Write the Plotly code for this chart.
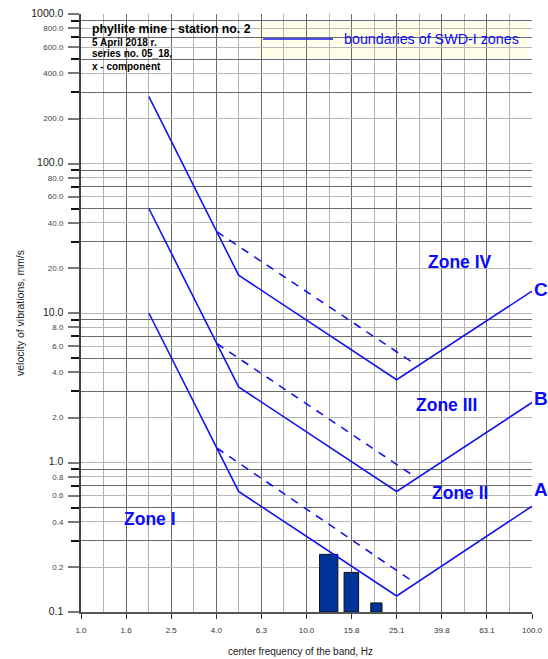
import plotly.graph_objects as go

# ---------------- data ----------------
# vertices of SWD-I zone boundaries (frequency Hz, velocity mm/s)
bound_freq = [2.0, 4.0, 5.0, 25.1, 100.0]
bound_A = [10.0, 1.25, 0.64, 0.128, 0.51]
bound_B = [50.0, 6.25, 3.2, 0.64, 2.52]
bound_C = [280.0, 35.0, 17.9, 3.58, 14.0]

dash_freq = [4.0, 30.0]
dash_A = [1.25, 0.158]
dash_B = [6.25, 0.81]
dash_C = [35.0, 4.6]

# measured spectrum bars (center frequency Hz, velocity mm/s)
bar_freq = [12.6, 15.85, 20.45]
bar_vel = [0.243, 0.184, 0.115]
bar_width_hz = 2.35
bar_base = 0.1

x_tickvals = [1.0, 1.585, 2.512, 3.981, 6.31, 10.0, 15.85, 25.12, 39.81, 63.1, 100.0]
x_ticktext = ["1.0", "1.6", "2.5", "4.0", "6.3", "10.0", "15.8", "25.1", "39.8", "63.1", "100.0"]
x_minor = [1.259, 1.995, 3.162, 5.012, 7.943, 12.59, 19.95, 31.62, 50.12, 79.43]

y_tickvals = [0.1, 0.2, 0.4, 0.6, 0.8, 1, 2, 4, 6, 8, 10, 20, 40, 60, 80, 100, 200, 400, 600, 800, 1000]
y_ticktext = ["0.1", "0.2", "0.4", "0.6", "0.8", "1.0", "2.0", "4.0", "6.0", "8.0", "10.0",
              "20.0", "40.0", "60.0", "80.0", "100.0", "200.0", "400.0", "600.0", "800.0", "1000.0"]
y_minor = [0.3, 0.5, 0.7, 0.9, 3, 5, 7, 9, 30, 50, 70, 90, 300, 500, 700, 900]

# ---------------- figure ----------------
W, H = 548, 659
L, R, T, B = 81, 16, 14, 47
PW, PH = W - L - R, H - T - B

def px(x):
    return (x - L) / PW

def py(y):
    return (H - B - y) / PH

BLUE_LINE = "#1414f0"
BLUE_TXT = "#0a0aff"
FONT = "Arial, Liberation Sans, sans-serif"

fig = go.Figure()

# bars as filled polygons
for f, v in zip(bar_freq, bar_vel):
    x0, x1 = f - bar_width_hz / 2, f + bar_width_hz / 2
    fig.add_trace(go.Scatter(
        x=[x0, x1, x1, x0, x0], y=[bar_base, bar_base, v, v, bar_base],
        mode="lines", fill="toself", fillcolor="#003399",
        line=dict(color="#111111", width=1), showlegend=False, hoverinfo="skip"))

for vals in (bound_A, bound_B, bound_C):
    fig.add_trace(go.Scatter(x=bound_freq, y=vals, mode="lines",
                             line=dict(color=BLUE_LINE, width=1.6),
                             showlegend=False, hoverinfo="skip"))
for vals in (dash_A, dash_B, dash_C):
    fig.add_trace(go.Scatter(x=dash_freq, y=vals, mode="lines",
                             line=dict(color=BLUE_LINE, width=1.6, dash="8px,7px"),
                             showlegend=False, hoverinfo="skip"))

# y tick labels: decades larger
big = {"0.1", "1.0", "10.0", "100.0", "1000.0"}
y_tt = [f"<span style='font-size:10.5px;fill:#222'>{t}</span>" if t in big else t for t in y_ticktext]

fig.update_xaxes(
    type="log", range=[0, 2], automargin=False,
    tickmode="array", tickvals=x_tickvals, ticktext=x_ticktext,
    tickfont=dict(size=8, color="#333", family=FONT),
    ticks="outside", ticklen=5, tickcolor="#333", tickwidth=1,
    ticklabelstandoff=4,
    showgrid=True, gridcolor="#6a6a6a", gridwidth=1,
    minor=dict(tickmode="array", tickvals=x_minor, showgrid=True,
               gridcolor="#b4b4b4", gridwidth=1, ticks=""),
    showline=True, linecolor="#555", linewidth=2, zeroline=False,
)
fig.update_yaxes(
    type="log", range=[-1, 3], automargin=False,
    tickmode="array", tickvals=y_tickvals, ticktext=y_tt,
    tickfont=dict(size=8, color="#444", family=FONT),
    ticks="outside", ticklen=11, tickcolor="#777", tickwidth=1.5,
    ticklabelstandoff=3,
    showgrid=True, gridcolor="#b8b8b8", gridwidth=1,
    minor=dict(tickmode="array", tickvals=y_minor, showgrid=True,
               gridcolor="#6a6a6a", gridwidth=1, ticks="outside",
               ticklen=8, tickcolor="#111", tickwidth=1.5),
    showline=True, linecolor="#444", linewidth=2, zeroline=False,
)

shapes = []
def rect(x0, y0, x1, y1, fill):
    shapes.append(dict(type="rect", xref="paper", yref="paper",
                       x0=px(x0), x1=px(x1), y0=py(y1), y1=py(y0),
                       fillcolor=fill, line=dict(width=0), layer="between"))

rect(83, 15, 257, 72, "white")           # title box
rect(403, 243, 514, 281, "white")        # zone IV
rect(390, 390, 507, 421, "white")        # zone III
rect(420, 480, 503, 508, "white")        # zone II
rect(103, 493, 207, 540, "white")        # zone I

# rounded legend box
lx0, ly0, lx1, ly1, r = 257, 22, 528, 58, 6
path = (f"M {px(lx0 + r)},{py(ly0)} L {px(lx1 - r)},{py(ly0)} "
        f"Q {px(lx1)},{py(ly0)} {px(lx1)},{py(ly0 + r)} "
        f"L {px(lx1)},{py(ly1 - r)} Q {px(lx1)},{py(ly1)} {px(lx1 - r)},{py(ly1)} "
        f"L {px(lx0 + r)},{py(ly1)} Q {px(lx0)},{py(ly1)} {px(lx0)},{py(ly1 - r)} "
        f"L {px(lx0)},{py(ly0 + r)} Q {px(lx0)},{py(ly0)} {px(lx0 + r)},{py(ly0)} Z")
shapes.append(dict(type="path", xref="paper", yref="paper", path=path,
                   fillcolor="#ffffea", line=dict(width=0), layer="between"))
shapes.append(dict(type="line", xref="paper", yref="paper",
                   x0=px(263), x1=px(333), y0=py(39), y1=py(39),
                   line=dict(color=BLUE_LINE, width=1.6), layer="above"))

annotations = []
def text(x, y, s, size, color="#000", bold=False, xanchor="center", angle=0):
    annotations.append(dict(
        xref="paper", yref="paper", x=px(x), y=py(y), text=f"<b>{s}</b>" if bold else s,
        showarrow=False, xanchor=xanchor, yanchor="middle", textangle=angle,
        font=dict(size=size, color=color, family=FONT)))

text(90, 29, "phyllite mine - station no. 2", 12.3, bold=True, xanchor="left")
text(90, 43, "5 April 2018 r.", 10, bold=True, xanchor="left")
text(90, 54, "series no. 05_18,", 10, bold=True, xanchor="left")
text(90, 66, "x - component", 10, bold=True, xanchor="left")

text(342, 39, "boundaries of SWD-I zones", 14.3, color=BLUE_TXT, xanchor="left")

text(460, 262, "Zone IV", 17.5, color=BLUE_TXT, bold=True)
text(446, 405, "Zone III", 17.5, color=BLUE_TXT, bold=True)
text(460, 493, "Zone II", 17.5, color=BLUE_TXT, bold=True)
text(150, 519, "Zone I", 17.5, color=BLUE_TXT, bold=True)

text(532, 289, "C", 19, color=BLUE_TXT, bold=True, xanchor="left")
text(532, 398, "B", 19, color=BLUE_TXT, bold=True, xanchor="left")
text(532, 489, "A", 19, color=BLUE_TXT, bold=True, xanchor="left")

text(300, 651, "center frequency of the band, Hz", 10, color="#222")
text(20, 313, "velocity of vibrations, mm/s", 10.5, color="#222", angle=-90)

fig.update_layout(
    width=W, height=H, margin=dict(l=L, r=R, t=T, b=B, pad=0, autoexpand=False),
    paper_bgcolor="white", plot_bgcolor="white",
    shapes=shapes, annotations=annotations, showlegend=False,
    font=dict(family=FONT),
)

fig.write_html("out.html")
